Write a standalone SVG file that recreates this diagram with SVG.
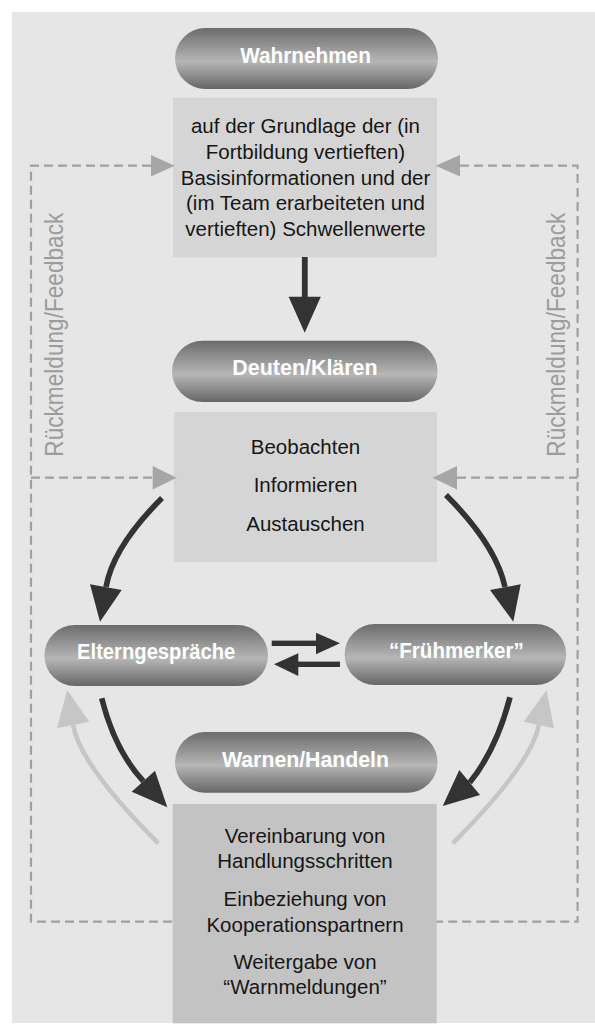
<svg xmlns="http://www.w3.org/2000/svg" width="595" height="1025" viewBox="0 0 595 1025">
  <style>
    .panel { fill: #e6e6e6; }
    .box { fill: #d5d5d5; }
    .box-dark { fill: #c3c3c3; }
    .pill { fill: url(#pillGrad); }
    .pill-label { font-family: "Liberation Sans", Arial, sans-serif; font-weight: bold; font-size: 22px; fill: #ffffff; text-anchor: middle; }
    .body { font-family: "Liberation Sans", Arial, sans-serif; font-size: 20.5px; fill: #161616; text-anchor: middle; }
    .side { font-family: "Liberation Sans", Arial, sans-serif; font-size: 26px; fill: #9c9c9c; }
    .dash { fill: none; stroke: #a0a0a0; stroke-width: 2.2; stroke-dasharray: 9 5; }
    .dash-head { fill: #a6a6a6; }
    .flow { fill: none; stroke: #333333; stroke-width: 5.6; }
    .flow-head { fill: #333333; }
    .back { fill: none; stroke: #c6c6c6; stroke-width: 4.5; }
    .back-head { fill: #c6c6c6; }
  </style>
  <defs>
    <linearGradient id="pillGrad" x1="0" y1="0" x2="0" y2="1">
      <stop offset="0" stop-color="#6c6c6c"/>
      <stop offset="0.55" stop-color="#b6b6b6"/>
      <stop offset="1" stop-color="#666666"/>
    </linearGradient>
  </defs>

  <rect x="0" y="0" width="595" height="1025" fill="#ffffff"/>
  <rect class="panel" x="12" y="12" width="583" height="1011"/>

  <!-- feedback frame and side labels -->
  <g id="feedback">
    <path class="dash" d="M151,165.7 H31 V921.7 H174"/>
    <path class="dash" d="M460,165.7 H577.6 V921.7 H436"/>
    <path class="dash" d="M31,477.7 H153"/>
    <path class="dash" d="M457,477.7 H577.6"/>
    <text class="side" transform="translate(62.7,456.7) rotate(-90)" textLength="244" lengthAdjust="spacingAndGlyphs">Rückmeldung/Feedback</text>
    <text class="side" transform="translate(564.7,456.7) rotate(-90)" textLength="244" lengthAdjust="spacingAndGlyphs">Rückmeldung/Feedback</text>
  </g>

  <!-- nodes -->
  <g id="wahrnehmen">
    <rect class="pill" x="175" y="28" width="263" height="61" rx="30.5"/>
    <text class="pill-label" x="305.5" y="62.7" textLength="130.7" lengthAdjust="spacingAndGlyphs">Wahrnehmen</text>
  </g>
  <g id="grundlage">
    <rect class="box" x="173" y="97.7" width="264" height="159.6"/>
    <text class="body" x="305.5" y="133">auf der Grundlage der (in</text>
    <text class="body" x="305.5" y="159">Fortbildung vertieften)</text>
    <text class="body" x="305.5" y="184.5">Basisinformationen und der</text>
    <text class="body" x="305.5" y="210">(im Team erarbeiteten und</text>
    <text class="body" x="305.5" y="235.5">vertieften) Schwellenwerte</text>
  </g>
  <g id="deuten">
    <rect class="pill" x="172" y="340.7" width="265.6" height="61.3" rx="30.6"/>
    <text class="pill-label" x="305" y="375.3" textLength="145.3" lengthAdjust="spacingAndGlyphs">Deuten/Klären</text>
  </g>
  <g id="beobachten">
    <rect class="box" x="174" y="412" width="263" height="150"/>
    <text class="body" x="305.5" y="453.5">Beobachten</text>
    <text class="body" x="305.5" y="492">Informieren</text>
    <text class="body" x="305.5" y="530.5">Austauschen</text>
  </g>
  <g id="elterngespraeche">
    <rect class="pill" x="44.4" y="625" width="223.6" height="61" rx="30.5"/>
    <text class="pill-label" x="156.2" y="659" textLength="158.3" lengthAdjust="spacingAndGlyphs">Elterngespräche</text>
  </g>
  <g id="fruehmerker">
    <rect class="pill" x="344.6" y="624" width="221.6" height="61" rx="30.5"/>
    <text class="pill-label" x="456.4" y="658.3" textLength="134.7" lengthAdjust="spacingAndGlyphs">“Frühmerker”</text>
  </g>
  <g id="warnen">
    <rect class="pill" x="175" y="732" width="262.6" height="60.7" rx="30.3"/>
    <text class="pill-label" x="305.5" y="766.7" textLength="167" lengthAdjust="spacingAndGlyphs">Warnen/Handeln</text>
  </g>
  <g id="massnahmen">
    <rect class="box-dark" x="172.7" y="804" width="264" height="219.3"/>
    <text class="body" x="305" y="842.7">Vereinbarung von</text>
    <text class="body" x="305" y="867.7">Handlungsschritten</text>
    <text class="body" x="305" y="906">Einbeziehung von</text>
    <text class="body" x="305" y="931.7">Kooperationspartnern</text>
    <text class="body" x="305" y="969.3">Weitergabe von</text>
    <text class="body" x="305" y="994.3">“Warnmeldungen”</text>
  </g>

  <!-- connectors -->
  <g id="connectors">
    <!-- feedback arrowheads -->
    <polygon class="dash-head" points="151,155 151,176.4 174.6,165.7"/>
    <polygon class="dash-head" points="460,155 460,176.4 435.7,165.7"/>
    <polygon class="dash-head" points="152.7,466 152.7,489.4 176.7,477.7"/>
    <polygon class="dash-head" points="457,466 457,489.4 432.6,477.7"/>

    <!-- Wahrnehmen box to Deuten/Klären -->
    <rect class="flow-head" x="301.9" y="257" width="5.8" height="41"/>
    <polygon class="flow-head" points="288.6,296.7 320.8,296.7 304.7,332.7"/>

    <!-- Beobachten box to both sides -->
    <path class="flow" d="M162,498 Q113,547 106,587"/>
    <polygon class="flow-head" points="90,584.3 121.7,590 100,621.7"/>
    <path class="flow" d="M446,495 Q496,545 505,587"/>
    <polygon class="flow-head" points="490,590 520.7,584.3 513.3,621.7"/>

    <!-- exchange between Elterngespräche and Frühmerker -->
    <rect class="flow-head" x="271.7" y="640.6" width="46" height="5.4"/>
    <polygon class="flow-head" points="316,632.7 316,654.3 340,643.3"/>
    <rect class="flow-head" x="297" y="661.6" width="43" height="5.4"/>
    <polygon class="flow-head" points="298.3,653.3 298.3,676 274,664.3"/>

    <!-- down to the action box -->
    <path class="flow" d="M101.7,698.3 Q114.8,750.5 143.3,781.2"/>
    <polygon class="flow-head" points="131.7,791.7 155,770.7 167.3,807.3"/>
    <path class="flow" d="M510,697.3 Q496.3,750 469.7,782.5"/>
    <polygon class="flow-head" points="459.3,770 480,795 442.7,806"/>

    <!-- back from the action box -->
    <path class="back" d="M158.3,843.3 Q79.9,764.9 73.1,725"/>
    <polygon class="back-head" points="57,728.3 89.2,721.7 67.2,690"/>
    <path class="back" d="M452.7,843.3 Q531,765 538.9,725"/>
    <polygon class="back-head" points="523.7,721.7 554,728.3 546.5,690"/>
  </g>
</svg>
